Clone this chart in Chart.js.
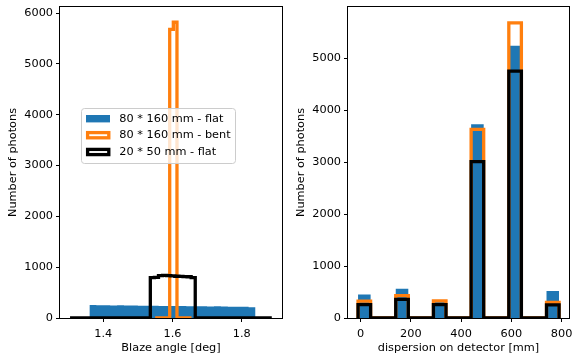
<!DOCTYPE html>
<html>
<head>
<meta charset="utf-8">
<script src="https://cdn.jsdelivr.net/npm/chart.js@4.4.1/dist/chart.umd.min.js"></script>
<style>
  html, body { margin: 0; padding: 0; background: #fff; }
  #wrap { position: relative; width: 581px; height: 361px; }
  canvas { position: absolute; top: 0; }
  #blazeChart { left: 0; }
  #dispChart { left: 290px; }
</style>
</head>
<body>
<div id="wrap">
  <canvas id="blazeChart" width="290" height="361"></canvas>
  <canvas id="dispChart" width="291" height="361"></canvas>
</div>
<script>
// series names (legend)
const seriesNames = ["80 * 160 mm - flat", "80 * 160 mm - bent", "20 * 50 mm - flat"];

// left panel: blaze angle histograms (bin edges + counts)
const blazeFlatEdges = [1.36, 1.38, 1.40, 1.42, 1.44, 1.46, 1.48, 1.50, 1.52, 1.54, 1.56, 1.58, 1.60,
  1.62, 1.64, 1.66, 1.68, 1.70, 1.72, 1.74, 1.76, 1.78, 1.80, 1.82, 1.84];
const blazeFlatCounts = [255, 250, 252, 247, 249, 244, 246, 241, 240, 242, 237, 238, 234,
  236, 231, 232, 229, 227, 229, 225, 223, 221, 219, 210];
const blazeBentEdges = [1.55, 1.5605, 1.571, 1.5815, 1.592, 1.6025, 1.613, 1.6235, 1.634, 1.6445, 1.655];
const blazeBentCounts = [0, 0, 0, 0, 5680, 5820, 0, 0, 0, 0];
const blazeSmallEdges = [1.304, 1.536, 1.5478, 1.5596, 1.5714, 1.5832, 1.595, 1.6068, 1.6186,
  1.6304, 1.6422, 1.654, 1.6658, 1.887];
const blazeSmallCounts = [0, 795, 800, 835, 840, 832, 828, 822, 820, 816, 812, 795, 0];
const blazeTicksX = [1.4, 1.6, 1.8];
const blazeTicksY = [0, 1000, 2000, 3000, 4000, 5000, 6000];

// right panel: dispersion on detector
const dispEdges = [-10, 40, 90, 140, 190, 240, 290, 340, 390, 440, 490, 540, 590, 640, 690, 740, 790];
const dispFlatCounts = [450, 0, 0, 565, 0, 0, 320, 0, 0, 3730, 0, 0, 5240, 0, 0, 520];
const dispBentCounts = [325, 0, 0, 432, 0, 0, 328, 0, 0, 3630, 0, 0, 5680, 0, 0, 302];
const dispSmallCounts = [256, 0, 0, 360, 0, 0, 256, 0, 0, 3010, 0, 0, 4750, 0, 0, 252];
const dispTicksX = [0, 200, 400, 600, 800];
const dispTicksY = [0, 1000, 2000, 3000, 4000, 5000];

const FONT = "'DejaVu Sans', sans-serif";
const FONT_SIZE = 11.3;
const BLUE = "#1f77b4";
const ORANGE = "#ff7f0e";

Chart.defaults.font.family = FONT;
Chart.defaults.font.size = FONT_SIZE;
Chart.defaults.color = "#000";

// histogram outline as points for a stepped line
function stepPoints(edges, counts) {
  const pts = [{ x: edges[0], y: 0 }];
  counts.forEach((c, i) => pts.push({ x: edges[i], y: c }));
  const last = edges.length - 1;
  pts.push({ x: edges[last], y: counts[counts.length - 1] });
  pts.push({ x: edges[last], y: 0 });
  return pts;
}

function histDatasets(flatEdges, flatCounts, bentEdges, bentCounts, smallEdges, smallCounts) {
  const common = {
    stepped: "before",
    pointRadius: 0,
    pointHoverRadius: 0,
    clip: 0,
    borderJoinStyle: "miter",
    borderCapStyle: "butt",
  };
  return [
    {
      ...common,
      label: seriesNames[0],
      data: stepPoints(flatEdges, flatCounts),
      fill: "origin",
      backgroundColor: BLUE,
      borderColor: "rgba(0,0,0,0)",
      borderWidth: 0,
      order: 3,
    },
    {
      ...common,
      label: seriesNames[1],
      data: stepPoints(bentEdges, bentCounts),
      fill: false,
      borderColor: ORANGE,
      borderWidth: 3.3,
      order: 2,
    },
    {
      ...common,
      label: seriesNames[2],
      data: stepPoints(smallEdges, smallCounts),
      fill: false,
      borderColor: "#000",
      borderWidth: 3.3,
      order: 1,
    },
  ];
}

// axes box like matplotlib spines
const frameBox = {
  id: "frameBox",
  afterDraw(chart) {
    const { ctx, chartArea: a } = chart;
    ctx.save();
    ctx.strokeStyle = "#000";
    ctx.lineWidth = 1;
    ctx.strokeRect(Math.round(a.left) - 0.5, Math.round(a.top) - 0.5,
      Math.round(a.right - a.left) + 1, Math.round(a.bottom - a.top) + 1);
    ctx.restore();
  },
};

// legend drawn inside the left axes
const insideLegend = {
  id: "insideLegend",
  afterDraw(chart) {
    if (chart.canvas.id !== "blazeChart") return;
    const ctx = chart.ctx;
    ctx.save();
    ctx.beginPath();
    ctx.roundRect(81.5, 108.5, 154, 55, 3);
    ctx.fillStyle = "rgba(255,255,255,0.8)";
    ctx.fill();
    ctx.strokeStyle = "#cccccc";
    ctx.lineWidth = 1;
    ctx.stroke();

    const rows = [118.7, 135.2, 152.0];
    // blue patch
    ctx.fillStyle = BLUE;
    ctx.fillRect(86, rows[0] - 3.7, 24, 7.4);
    // outlined patches
    ctx.lineWidth = 3.3;
    ctx.lineJoin = "miter";
    ctx.strokeStyle = ORANGE;
    ctx.strokeRect(87.6, rows[1] - 2.6, 21.2, 5.2);
    ctx.strokeStyle = "#000";
    ctx.strokeRect(87.6, rows[2] - 2.6, 21.2, 5.2);

    ctx.fillStyle = "#000";
    ctx.font = FONT_SIZE + "px " + FONT;
    ctx.textBaseline = "middle";
    ctx.textAlign = "left";
    seriesNames.forEach((name, i) => ctx.fillText(name, 119.3, rows[i]));
    ctx.restore();
  },
};

function makeOptions(cfg) {
  return {
    responsive: false,
    animation: false,
    layout: { padding: { top: 7, right: cfg.rightPad, left: 0, bottom: 0 } },
    plugins: { legend: { display: false }, tooltip: { enabled: false } },
    scales: {
      x: {
        type: "linear",
        min: cfg.xMin,
        max: cfg.xMax,
        afterBuildTicks: (axis) => { axis.ticks = cfg.xTicks.map((v) => ({ value: v })); },
        afterFit: (axis) => { axis.height = 43; axis.paddingLeft = 0; axis.paddingRight = 0; },
        grid: { display: true, drawOnChartArea: false, drawTicks: true, tickLength: 4, tickColor: "#000", tickWidth: 1 },
        border: { display: false },
        ticks: { padding: 5, maxRotation: 0, autoSkip: false, color: "#000", callback: (v) => String(v) },
        title: { display: true, text: cfg.xTitle, color: "#000", padding: { top: 0, bottom: 6.6 } },
      },
      y: {
        type: "linear",
        min: 0,
        max: cfg.yMax,
        afterBuildTicks: (axis) => { axis.ticks = cfg.yTicks.map((v) => ({ value: v })); },
        afterFit: (axis) => { axis.width = cfg.yWidth; axis.paddingTop = 0; axis.paddingBottom = 0; },
        grid: { display: true, drawOnChartArea: false, drawTicks: true, tickLength: 4, tickColor: "#000", tickWidth: 1 },
        border: { display: false },
        ticks: { padding: 3, autoSkip: false, color: "#000", callback: (v) => String(v) },
        title: { display: true, text: "Number of photons", color: "#000", padding: { top: cfg.yTitlePad, bottom: 0 } },
      },
    },
  };
}

new Chart(document.getElementById("blazeChart"), {
  type: "line",
  data: {
    datasets: histDatasets(blazeFlatEdges, blazeFlatCounts, blazeBentEdges, blazeBentCounts,
      blazeSmallEdges, blazeSmallCounts),
  },
  options: makeOptions({
    xMin: 1.275, xMax: 1.9165, xTicks: blazeTicksX, xTitle: "Blaze angle [deg]",
    yMax: 6120, yTicks: blazeTicksY, yWidth: 60, yTitlePad: 6.1, rightPad: 8,
  }),
  plugins: [frameBox, insideLegend],
});

new Chart(document.getElementById("dispChart"), {
  type: "line",
  data: {
    datasets: histDatasets(dispEdges, dispFlatCounts, dispEdges, dispBentCounts,
      dispEdges, dispSmallCounts),
  },
  options: makeOptions({
    xMin: -50, xMax: 829.5, xTicks: dispTicksX, xTitle: "dispersion on detector [mm]",
    yMax: 5985, yTicks: dispTicksY, yWidth: 58, yTitlePad: 4.1, rightPad: 12,
  }),
  plugins: [frameBox],
});
</script>
</body>
</html>
